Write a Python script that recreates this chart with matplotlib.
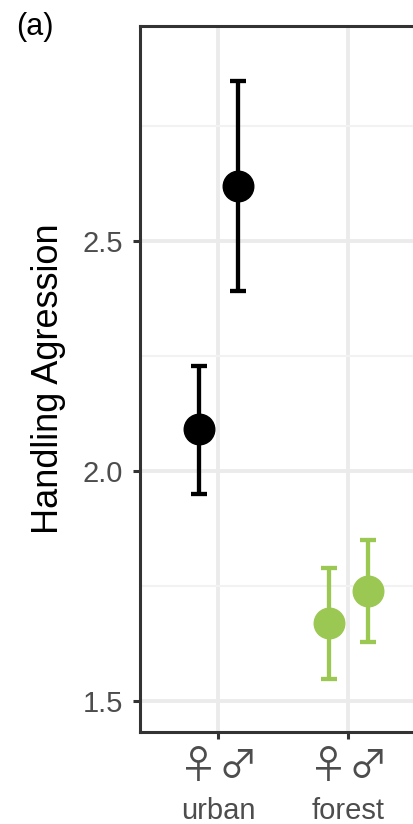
import numpy as np
import matplotlib.pyplot as plt

plt.rcParams["font.family"] = ["Liberation Sans", "DejaVu Sans"]

# Values
habitats = ["urban", "forest"]
female_mean = [2.091, 1.670]
female_lo = [1.950, 1.548]
female_hi = [2.228, 1.789]
male_mean = [2.620, 1.739]
male_lo = [2.391, 1.628]
male_hi = [2.848, 1.850]
colors = ["black", "#9BC853"]

W, H = 413, 824
fig = plt.figure(figsize=(W / 100, H / 100), dpi=100)
ax = fig.add_axes([140 / W, 1 - 732 / H, (W - 140) / W, (732 - 26) / H])

x = np.arange(1, len(habitats) + 1)
dodge = 0.15
for i in range(len(habitats)):
    for dx, m, lo, hi in [(-dodge, female_mean, female_lo, female_hi),
                          (dodge, male_mean, male_lo, male_hi)]:
        ax.errorbar(x[i] + dx, m[i], yerr=[[m[i] - lo[i]], [hi[i] - m[i]]],
                    fmt="o", color=colors[i], markersize=22,
                    elinewidth=3.1, capsize=6, capthick=3.1, zorder=3)

ax.set_xlim(0.4, 0.4 + (W - 140) / 130)
ax.set_ylim(1.5 - 31 / 460, 1.5 + 675 / 460)

ax.set_yticks([1.5, 2.0, 2.5])
ax.set_yticks([1.75, 2.25, 2.75], minor=True)
ax.set_yticklabels(["1.5", "2.0", "2.5"])

ax.set_xticks(x)
ax.set_xticklabels(habitats)
sym_pos = np.sort(np.concatenate([x - dodge, x + dodge]))
ax.set_xticks(sym_pos, minor=True)
ax.set_xticklabels(["♀", "♂"] * len(habitats), minor=True)
for lab in ax.get_xticklabels(minor=True):
    lab.set_family(["Noto Sans CJK JP", "DejaVu Sans"])

ax.grid(which="major", color="#EBEBEB", linewidth=2.8, zorder=0)
ax.grid(which="minor", axis="y", color="#F2F2F2", linewidth=1.5, zorder=0)
ax.set_axisbelow(True)

for s in ["left", "top", "bottom"]:
    ax.spines[s].set_color("#333333")
    ax.spines[s].set_linewidth(2.2)
ax.spines["right"].set_visible(False)

ax.tick_params(which="major", length=5, width=2.2, color="#333333",
               labelcolor="#4D4D4D", labelsize=21)
ax.tick_params(axis="y", which="major", pad=7)
ax.tick_params(axis="x", which="major", pad=42)
ax.tick_params(axis="x", which="minor", length=0, pad=11,
               labelcolor="#4D4D4D", labelsize=28)
ax.tick_params(axis="y", which="minor", length=0)

ax.set_ylabel("Handling Agression", fontsize=26, labelpad=12)
fig.text(16 / W, 1 - 27 / H, "(a)", fontsize=22, va="center", ha="left")

fig.savefig("out.png", dpi=100)
